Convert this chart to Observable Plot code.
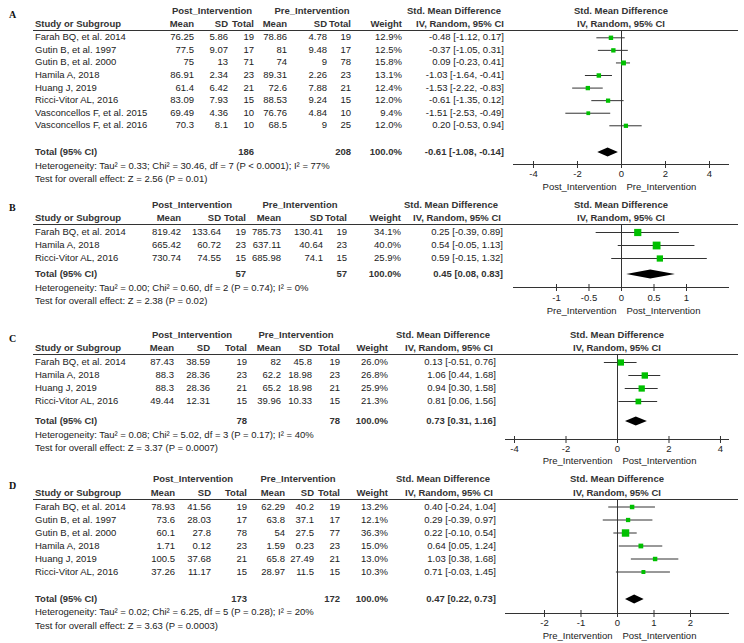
<!DOCTYPE html>
<html><head><meta charset="utf-8">
<script src="https://cdn.jsdelivr.net/npm/d3@7"></script>
<script src="https://cdn.jsdelivr.net/npm/@observablehq/plot@0.6"></script>
<style>
body{margin:0;background:#fff;}
#fig{position:relative;width:744px;height:643px;font-family:"Liberation Sans",Arial,sans-serif;font-size:9.5px;color:#222;overflow:hidden;background:#fff}
.t{position:absolute;white-space:nowrap;line-height:12px;}
.b{font-weight:bold;color:#333}
.r{transform:translateX(-100%)}
.c{transform:translateX(-50%)}
.lab{font-family:"Liberation Serif",serif;font-weight:bold;font-size:10px;color:#111}
.hl{position:absolute;height:0;border-top:1px solid #333}
#fig svg{position:absolute;overflow:visible}
</style></head>
<body><div id="fig"></div>
<script>
// ---------- Panel A ----------
const studiesA = ["Farah BQ, et al. 2014","Gutin B, et al. 1997","Gutin B, et al. 2000","Hamila A, 2018","Huang J, 2019","Ricci-Vitor AL, 2016","Vasconcellos F, et al. 2015","Vasconcellos F, et al. 2016"];
const postMeanA = [76.25,77.5,75,86.91,61.4,83.09,69.49,70.3];
const postSDA = [5.86,9.07,13,2.34,6.42,7.93,4.36,8.1];
const postNA = [19,17,71,23,21,15,10,10];
const preMeanA = [78.86,81,74,89.31,72.6,88.53,76.76,68.5];
const preSDA = [4.78,9.48,9,2.26,7.88,9.24,4.84,9];
const preNA = [19,17,78,23,21,15,10,25];
const weightA = [12.9,12.5,15.8,13.1,12.4,12.0,9.4,12.0];
const smdA = [-0.48,-0.37,0.09,-1.03,-1.53,-0.61,-1.51,0.20];
const loA = [-1.12,-1.05,-0.23,-1.64,-2.22,-1.35,-2.53,-0.53];
const hiA = [0.17,0.31,0.41,-0.41,-0.83,0.12,-0.49,0.94];
const totalA = [186,208,-0.61,-1.08,-0.14];
const hetA = "Heterogeneity: Tau² = 0.33; Chi² = 30.46, df = 7 (P < 0.0001); I² = 77%";
const testA = "Test for overall effect: Z = 2.56 (P = 0.01)";
const ticksA = [-4,-2,0,2,4];
const sidesA = ["Post_Intervention","Pre_Intervention"];

// ---------- Panel B ----------
const studiesB = ["Farah BQ, et al. 2014","Hamila A, 2018","Ricci-Vitor AL, 2016"];
const postMeanB = [819.42,665.42,730.74];
const postSDB = [133.64,60.72,74.55];
const postNB = [19,23,15];
const preMeanB = [785.73,637.11,685.98];
const preSDB = [130.41,40.64,74.1];
const preNB = [19,23,15];
const weightB = [34.1,40.0,25.9];
const smdB = [0.25,0.54,0.59];
const loB = [-0.39,-0.05,-0.15];
const hiB = [0.89,1.13,1.32];
const totalB = [57,57,0.45,0.08,0.83];
const hetB = "Heterogeneity: Tau² = 0.00; Chi² = 0.60, df = 2 (P = 0.74); I² = 0%";
const testB = "Test for overall effect: Z = 2.38 (P = 0.02)";
const ticksB = [-1,-0.5,0,0.5,1];
const sidesB = ["Pre_Intervention","Post_Intervention"];

// ---------- Panel C ----------
const studiesC = ["Farah BQ, et al. 2014","Hamila A, 2018","Huang J, 2019","Ricci-Vitor AL, 2016"];
const postMeanC = [87.43,88.3,88.3,49.44];
const postSDC = [38.59,28.36,28.36,12.31];
const postNC = [19,23,21,15];
const preMeanC = [82,62.2,65.2,39.96];
const preSDC = [45.8,18.98,18.98,10.33];
const preNC = [19,23,21,15];
const weightC = [26.0,26.8,25.9,21.3];
const smdC = [0.13,1.06,0.94,0.81];
const loC = [-0.51,0.44,0.30,0.06];
const hiC = [0.76,1.68,1.58,1.56];
const totalC = [78,78,0.73,0.31,1.16];
const hetC = "Heterogeneity: Tau² = 0.08; Chi² = 5.02, df = 3 (P = 0.17); I² = 40%";
const testC = "Test for overall effect: Z = 3.37 (P = 0.0007)";
const ticksC = [-4,-2,0,2,4];
const sidesC = ["Pre_Intervention","Post_Intervention"];

// ---------- Panel D ----------
const studiesD = ["Farah BQ, et al. 2014","Gutin B, et al. 1997","Gutin B, et al. 2000","Hamila A, 2018","Huang J, 2019","Ricci-Vitor AL, 2016"];
const postMeanD = [78.93,73.6,60.1,1.71,100.5,37.26];
const postSDD = [41.56,28.03,27.8,0.12,37.68,11.17];
const postND = [19,17,78,23,21,15];
const preMeanD = [62.29,63.8,54,1.59,65.8,28.97];
const preSDD = [40.2,37.1,27.5,0.23,27.49,11.5];
const preND = [19,17,77,23,21,15];
const weightD = [13.2,12.1,36.3,15.0,13.0,10.3];
const smdD = [0.40,0.29,0.22,0.64,1.03,0.71];
const loD = [-0.24,-0.39,-0.10,0.05,0.38,-0.03];
const hiD = [1.04,0.97,0.54,1.24,1.68,1.45];
const totalD = [173,172,0.47,0.22,0.73];
const hetD = "Heterogeneity: Tau² = 0.02; Chi² = 6.25, df = 5 (P = 0.28); I² = 20%";
const testD = "Test for overall effect: Z = 3.63 (P = 0.0003)";
const ticksD = [-2,-1,0,1,2];
const sidesD = ["Pre_Intervention","Post_Intervention"];

const columnHeads = ["Study or Subgroup","Mean","SD","Total","Mean","SD","Total","Weight","IV, Random, 95% CI"];
const groupHeads = ["Post_Intervention","Pre_Intervention","Std. Mean Difference"];

// ---------- layout (pixel positions) ----------
const layouts = {
  A:{letterY:15,h1:11,h2:24,line:30,row0:37.3,step:12.57,tot:152,het:166,test:179,axis:164,tick:173,lab:186,
     cols:[35,194,228,254,287,327,351,402,504],postC:212,preC:312,smdC:454,zero:621,axL:513,axR:729,half:4.909},
  B:{letterY:208,h1:205,h2:218,line:224,row0:232,step:13,tot:274,het:288,test:301,axis:287,tick:297,lab:310,
     cols:[35,181,221,246,281,323,347,401,503],postC:192,preC:300,smdC:451,zero:621,axL:513,axR:729,half:1.6615},
  C:{letterY:339,h1:335,h2:348,line:354,row0:362,step:13,tot:421,het:435,test:448,axis:439,tick:448,lab:460,
     cols:[35,174,210,247,281,312,340,388,496],postC:192,preC:296,smdC:443,zero:617,axL:505,axR:729,half:4.35},
  D:{letterY:486,h1:479,h2:493,line:499,row0:506.5,step:13,tot:599,het:612,test:626,axis:613,tick:622,lab:635,
     cols:[35,175,211,247,285,314,340,388,496],postC:193,preC:298,smdC:443,zero:617,axL:505,axR:729,half:3.068}
};

const panels = [
  {key:"A",studies:studiesA,pm:postMeanA,psd:postSDA,pn:postNA,qm:preMeanA,qsd:preSDA,qn:preNA,w:weightA,smd:smdA,lo:loA,hi:hiA,total:totalA,het:hetA,test:testA,ticks:ticksA,sides:sidesA},
  {key:"B",studies:studiesB,pm:postMeanB,psd:postSDB,pn:postNB,qm:preMeanB,qsd:preSDB,qn:preNB,w:weightB,smd:smdB,lo:loB,hi:hiB,total:totalB,het:hetB,test:testB,ticks:ticksB,sides:sidesB},
  {key:"C",studies:studiesC,pm:postMeanC,psd:postSDC,pn:postNC,qm:preMeanC,qsd:preSDC,qn:preNC,w:weightC,smd:smdC,lo:loC,hi:hiC,total:totalC,het:hetC,test:testC,ticks:ticksC,sides:sidesC},
  {key:"D",studies:studiesD,pm:postMeanD,psd:postSDD,pn:postND,qm:preMeanD,qsd:preSDD,qn:preND,w:weightD,smd:smdD,lo:loD,hi:hiD,total:totalD,het:hetD,test:testD,ticks:ticksD,sides:sidesD}
];

const fig = document.getElementById("fig");
function txt(x, y, s, cls){
  const d = document.createElement("div");
  d.className = "t " + (cls || "");
  d.style.left = x + "px";
  d.style.top = (y - 6) + "px";
  d.textContent = s;
  fig.appendChild(d);
}
const ci = (e,l,h) => `${e.toFixed(2)} [${l.toFixed(2)}, ${h.toFixed(2)}]`;

for (const P of panels){
  const L = layouts[P.key];
  const c = L.cols;
  txt(9, L.letterY, P.key, "lab");
  txt(L.postC, L.h1, groupHeads[0], "b c");
  txt(L.preC, L.h1, groupHeads[1], "b c");
  txt(L.smdC, L.h1, groupHeads[2], "b c");
  txt(L.zero, L.h1, groupHeads[2], "b c");
  txt(c[0], L.h2, columnHeads[0], "b");
  for (let k = 1; k <= 7; k++) txt(c[k], L.h2, columnHeads[k], "b r");
  txt(L.smdC + 6, L.h2, columnHeads[8], "b c");
  txt(L.zero, L.h2, columnHeads[8], "b c");
  const hl = document.createElement("div");
  hl.className = "hl";
  hl.style.left = "33px"; hl.style.width = (738 - 33) + "px"; hl.style.top = L.line + "px";
  fig.appendChild(hl);
  P.studies.forEach((s, i) => {
    const y = L.row0 + i * L.step;
    txt(c[0], y, s);
    txt(c[1], y, String(P.pm[i]), "r");
    txt(c[2], y, String(P.psd[i]), "r");
    txt(c[3], y, String(P.pn[i]), "r");
    txt(c[4], y, String(P.qm[i]), "r");
    txt(c[5], y, String(P.qsd[i]), "r");
    txt(c[6], y, String(P.qn[i]), "r");
    txt(c[7], y, P.w[i].toFixed(1) + "%", "r");
    txt(c[8], y, ci(P.smd[i], P.lo[i], P.hi[i]), "r");
  });
  const T = P.total;
  txt(c[0], L.tot, "Total (95% CI)", "b");
  txt(c[3], L.tot, String(T[0]), "b r");
  txt(c[6], L.tot, String(T[1]), "b r");
  txt(c[7], L.tot, "100.0%", "b r");
  txt(c[8], L.tot, ci(T[2], T[3], T[4]), "b r");
  txt(c[0], L.het, P.het);
  txt(c[0], L.test, P.test);

  // ---------- forest plot ----------
  const left = 495;
  const H = L.lab + 8 - L.line;
  const innerH = L.axis - L.line;
  const toRow = px => (px - L.row0) / L.step;
  const y0 = toRow(L.line), y1 = toRow(L.axis);
  const rows = P.studies.map((s, i) => ({i, w: P.w[i], est: P.smd[i], lo: P.lo[i], hi: P.hi[i]}));
  const tIdx = toRow(L.tot);
  const dh = 4.5 / L.step;
  const diamond = [
    {y: tIdx - dh, a: T[2], b: T[2]},
    {y: tIdx, a: T[3], b: T[4]},
    {y: tIdx + dh, a: T[2], b: T[2]}
  ];
  const svg = Plot.plot({
    width: 744 - left,
    height: H,
    marginLeft: L.axL - left,
    marginRight: 744 - L.axR,
    marginTop: 0,
    marginBottom: H - innerH,
    x: {domain: [-L.half, L.half], axis: null},
    y: {domain: [y0, y1], range: [0, innerH], axis: null},
    r: {type: "sqrt", domain: [0, 40], range: [0, 4.4]},
    style: {background: "transparent", overflow: "visible", fontFamily: "Liberation Sans, Arial, sans-serif", fontSize: "9.5px", color: "#222"},
    marks: [
      Plot.ruleX([0], {stroke: "#333", strokeWidth: 1}),
      Plot.ruleY([y1], {stroke: "#333", strokeWidth: 1}),
      Plot.ruleX(P.ticks, {x: d => d, y1: y1 - 3 / L.step, y2: y1 + 4 / L.step, stroke: "#333"}),
      Plot.text(P.ticks, {x: d => d, y: toRow(L.tick), text: d => String(d), fontSize: 9.5, fill: "#222"}),
      Plot.text([P.sides[0]], {x: 0, y: toRow(L.lab), text: d => d, textAnchor: "end", dx: -5, fontSize: 9.5, fill: "#222"}),
      Plot.text([P.sides[1]], {x: 0, y: toRow(L.lab), text: d => d, textAnchor: "start", dx: 5, fontSize: 9.5, fill: "#222"}),
      Plot.ruleY(rows, {y: "i", x1: "lo", x2: "hi", stroke: "#333", strokeWidth: 1}),
      Plot.dot(rows, {x: "est", y: "i", r: "w", symbol: "square", fill: "#00c000"}),
      Plot.areaX(diamond, {y: "y", x1: "a", x2: "b", fill: "#000", curve: "linear"})
    ]
  });
  svg.style.left = left + "px";
  svg.style.top = L.line + "px";
  fig.appendChild(svg);
}
</script>
</body></html>
